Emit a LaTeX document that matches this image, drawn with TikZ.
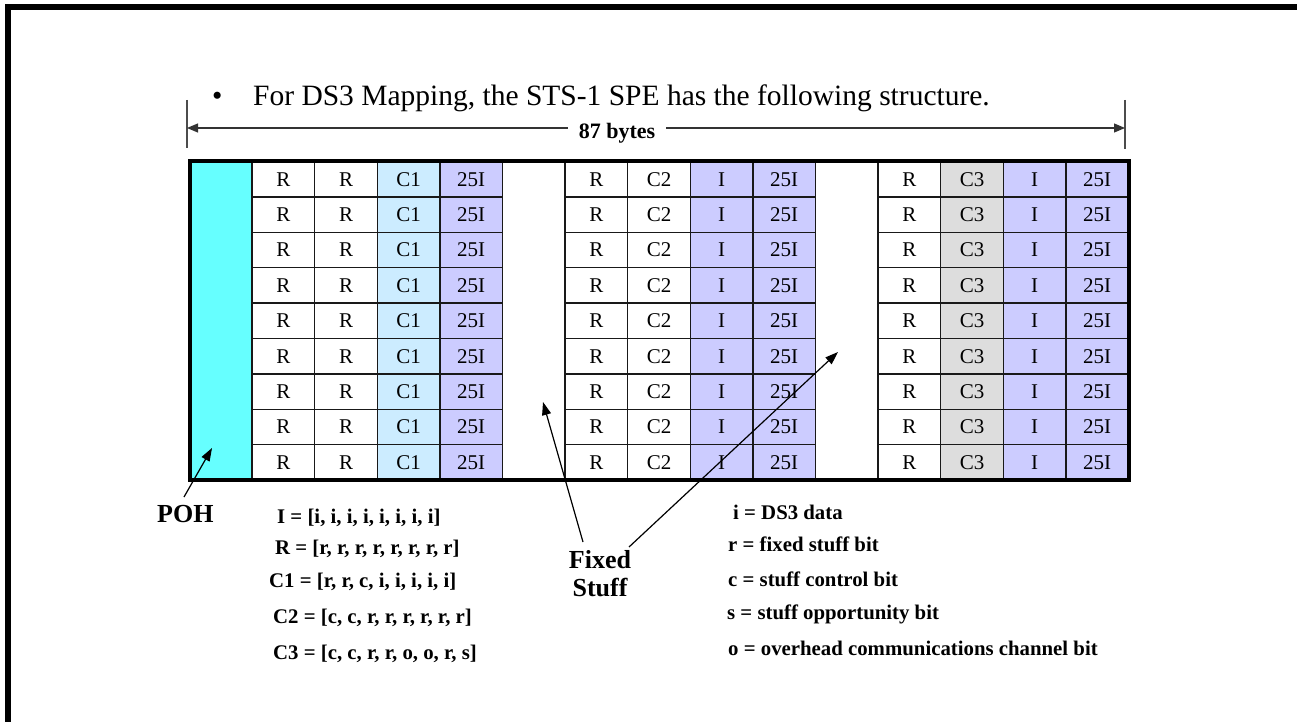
\documentclass[tikz,border=0pt]{standalone}
\usepackage{fontspec}
\setmainfont{Liberation Serif}
\usetikzlibrary{arrows.meta}
\definecolor{pohcyan}{RGB}{102,255,255}
\definecolor{cblue}{RGB}{204,236,255}
\definecolor{lav}{RGB}{204,204,255}
\definecolor{cgrey}{RGB}{221,221,221}
\begin{document}
\begin{tikzpicture}[x=1pt,y=-1pt,
  cell/.style={draw=black!90, line width=1.4pt, minimum width=62.6pt, minimum height=35.4pt, inner sep=0pt, font=\fontsize{21}{25}\selectfont},
  lbl/.style={anchor=base west, inner sep=0pt, font=\bfseries\fontsize{20.8}{24}\selectfont},
  arr/.style={line width=1.2pt, -{Triangle[length=13pt,width=9pt]}},
  dim/.style={line width=1.2pt, black!80, -{Triangle[length=11pt,width=9pt]}},
  tick/.style={line width=1.2pt, black!70},
  ]
\useasboundingbox (0,0) rectangle (1297,722);
% frame
\draw[line width=6pt] (8,722) -- (8,7) -- (1297,7);
% title
\node[anchor=base west, inner sep=0pt, font=\fontsize{29.5}{34}\selectfont] (title) at (212,106) {\makebox[41pt][l]{•}For DS3 Mapping, the STS-1 SPE has the following structure.};
% dimension
\coordinate (tl1) at (187,100); \coordinate (tl2) at (187,148);
\coordinate (tr1) at (1125,100); \coordinate (tr2) at (1125,149);
\draw[tick] (tl1) -- (tl2);
\draw[tick] (tr1) -- (tr2);
\coordinate (dl) at (187,128); \coordinate (dr) at (1125,128);
\node[anchor=base, font=\bfseries\fontsize{22}{26}\selectfont, inner xsep=11pt] (bytes) at (617,139) {87 bytes};
\draw[dim] (bytes.west |- dl) -- (dl);
\draw[dim] (bytes.east |- dr) -- (dr);
% POH column
\node[fill=pohcyan, minimum width=62.6pt, minimum height=318.6pt, inner sep=0pt] (poh) at (220.8,320.8) {};
% cells
\foreach \c/\t/\f in {1/R/white, 2/R/white, 3/C1/cblue, 4/25I/lav, 6/R/white, 7/C2/white, 8/I/lav, 9/25I/lav, 11/R/white, 12/C3/cgrey, 13/I/lav, 14/25I/lav}{
  \foreach \r in {0,...,8}{
    \node[cell, fill=\f] (c\c-\r) at ({189.5+62.6*(\c+0.5)},{161.5+35.4*(\r+0.5)}) {\t};
  }
}
\draw[line width=4pt] (189.5,161.5) rectangle (1128.5,480.1);
% labels
\node[anchor=base west, inner sep=0pt, font=\bfseries\fontsize{26}{30}\selectfont] (pohlbl) at (157,522) {POH};
\node[lbl] (defI) at (277,523) {I = [i, i, i, i, i, i, i, i]};
\node[lbl] (defR) at (275,554) {R = [r, r, r, r, r, r, r, r]};
\node[lbl] (defC1) at (269,587) {C1 = [r, r, c, i, i, i, i, i]};
\node[lbl] (defC2) at (273,623) {C2 = [c, c, r, r, r, r, r, r]};
\node[lbl] (defC3) at (273,659) {C3 = [c, c, r, r, o, o, r, s]};
\node[lbl] (li) at (733,519) {i = DS3 data};
\node[lbl] (lr) at (728,551) {r = fixed stuff bit};
\node[lbl] (lc) at (728,586) {c = stuff control bit};
\node[lbl] (ls) at (727,619) {s = stuff opportunity bit};
\node[lbl] (lo) at (728,655) {o = overhead communications channel bit};
\node[align=center, inner sep=0pt, font=\bfseries\fontsize{26}{28}\selectfont] (fs) at (600,574) {Fixed\\Stuff};
% arrows
\coordinate (pohs) at (184,497); \coordinate (poht) at (212,448);
\draw[arr] (pohs) -- (poht);
\coordinate (f1s) at (583,542); \coordinate (f1t) at (543,402);
\draw[arr] (f1s) -- (f1t);
\coordinate (f2s) at (629,547); \coordinate (f2t) at (838,352);
\draw[arr] (f2s) -- (f2t);
\end{tikzpicture}
\end{document}
